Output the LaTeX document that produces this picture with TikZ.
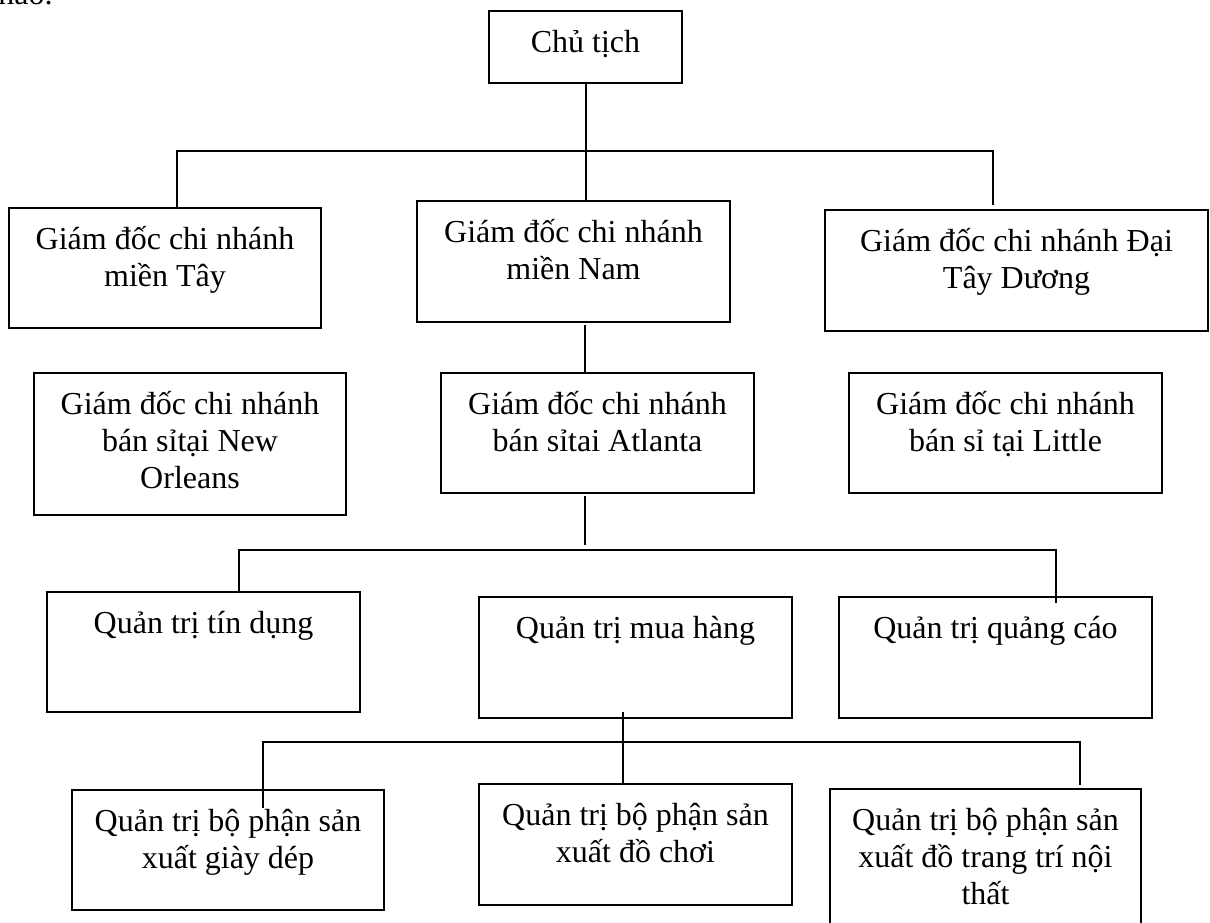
\documentclass[tikz,border=0pt]{standalone}
\usepackage{fontspec}
\setmainfont{Liberation Serif}
\usetikzlibrary{fit}
\begin{document}
\begin{tikzpicture}[x=0.5pt,y=-0.5pt,
  box/.style={draw, line width=1pt, inner sep=0pt},
  txt/.style={anchor=north, align=center, inner sep=0pt, font=\fontsize{16}{18.5}\selectfont},
  lab/.style={txt, yshift=-8pt},
  wire/.style={line width=1pt}]
\useasboundingbox (0,0) rectangle (1210,922);
\clip (0,0) rectangle (1210,922);

% tail of the preceding sentence
\node[anchor=base west, inner sep=0pt, font=\fontsize{16}{18.5}\selectfont] (prev) at (-2,4) {nào.};

% boxes
\node[box, fit={(489,11) (682,83)}] (chu) {};
\node[box, fit={(9,208) (321,328)}] (tay) {};
\node[box, fit={(417,201) (730,322)}] (nam) {};
\node[box, fit={(825,210) (1208,331)}] (dtd) {};
\node[box, fit={(34,373) (346,515)}] (newo) {};
\node[box, fit={(441,373) (754,493)}] (atl) {};
\node[box, fit={(849,373) (1162,493)}] (little) {};
\node[box, fit={(47,592) (360,712)}] (tin) {};
\node[box, fit={(479,597) (792,718)}] (mua) {};
\node[box, fit={(839,597) (1152,718)}] (qc) {};
\node[box, fit={(72,790) (384,910)}] (giay) {};
\node[box, fit={(479,784) (792,905)}] (dochoi) {};
\node[box, fit={(830,789) (1141,960)}] (noithat) {};

% labels
\node[lab] (chu-t) at (chu.north) {\strut Chủ tịch};
\node[lab] (tay-t) at (tay.north) {\strut Giám đốc chi nhánh\\\strut miền Tây};
\node[lab] (nam-t) at (nam.north) {\strut Giám đốc chi nhánh\\\strut miền Nam};
\node[lab] (dtd-t) at (dtd.north) {\strut Giám đốc chi nhánh Đại\\\strut Tây Dương};
\node[lab] (newo-t) at (newo.north) {\strut Giám đốc chi nhánh\\\strut bán sỉtại New\\\strut Orleans};
\node[lab] (atl-t) at (atl.north) {\strut Giám đốc chi nhánh\\\strut bán sỉtai Atlanta};
\node[lab] (little-t) at (little.north) {\strut Giám đốc chi nhánh\\\strut bán sỉ tại Little};
\node[lab] (tin-t) at (tin.north) {\strut Quản trị tín dụng};
\node[lab] (mua-t) at (mua.north) {\strut Quản trị mua hàng};
\node[lab] (qc-t) at (qc.north) {\strut Quản trị quảng cáo};
\node[lab] (giay-t) at (giay.north) {\strut Quản trị bộ phận sản\\\strut xuất giày dép};
\node[lab] (dochoi-t) at (dochoi.north) {\strut Quản trị bộ phận sản\\\strut xuất đồ chơi};
\node[lab] (noithat-t) at (noithat.north) {\strut Quản trị bộ phận sản\\\strut xuất đồ trang trí nội\\\strut thất};

% junction points
\coordinate (barA-l) at (177,151);
\coordinate (barA-r) at (993,151);
\coordinate (dtd-end) at (993,205);
\coordinate (atl-top) at (585,325);
\coordinate (atl-out) at (585,496);
\coordinate (atl-end) at (585,545);
\coordinate (barB-l) at (239,550);
\coordinate (barB-r) at (1056,550);
\coordinate (qc-end) at (1056,603);
\coordinate (mua-out) at (623,712);
\coordinate (barC-l) at (263,742);
\coordinate (barC-r) at (1080,742);
\coordinate (giay-end) at (263,808);
\coordinate (noithat-end) at (1080,785);

% connectors
\draw[wire] (chu.south) -- (chu.south |- nam.north);
\draw[wire] (tay.north -| barA-l) -- (barA-l) -- (barA-r) -- (dtd-end);
\draw[wire] (atl-top) -- (atl-top |- atl.north);
\draw[wire] (atl-out) -- (atl-end);
\draw[wire] (tin.north -| barB-l) -- (barB-l) -- (barB-r) -- (qc-end);
\draw[wire] (mua-out) -- (mua-out |- dochoi.north);
\draw[wire] (giay-end) -- (barC-l) -- (barC-r) -- (noithat-end);
\end{tikzpicture}
\end{document}
